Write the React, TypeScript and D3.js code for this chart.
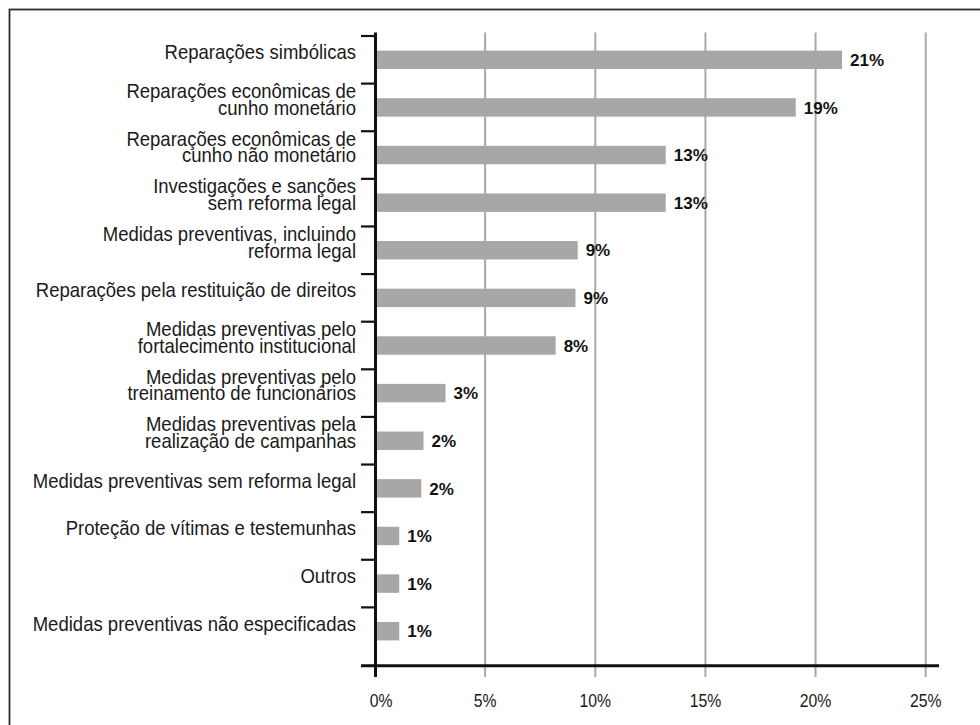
import React from "react";
import * as d3 from "d3";

const categories: string[][] = [
  ["Reparações simbólicas"],
  ["Reparações econômicas de", "cunho monetário"],
  ["Reparações econômicas de", "cunho não monetário"],
  ["Investigações e sanções", "sem reforma legal"],
  ["Medidas preventivas, incluindo", "reforma legal"],
  ["Reparações pela restituição de direitos"],
  ["Medidas preventivas pelo", "fortalecimento institucional"],
  ["Medidas preventivas pelo", "treinamento de funcionários"],
  ["Medidas preventivas pela", "realização de campanhas"],
  ["Medidas preventivas sem reforma legal"],
  ["Proteção de vítimas e testemunhas"],
  ["Outros"],
  ["Medidas preventivas não especificadas"],
];

const values: number[] = [21.2, 19.1, 13.2, 13.2, 9.2, 9.1, 8.2, 3.2, 2.2, 2.1, 1.1, 1.1, 1.1];
const valueLabels: string[] = ["21%", "19%", "13%", "13%", "9%", "9%", "8%", "3%", "2%", "2%", "1%", "1%", "1%"];
const xTicks: number[] = [0, 5, 10, 15, 20, 25];
const xTickLabels: string[] = ["0%", "5%", "10%", "15%", "20%", "25%"];

const FONT = "'Liberation Sans', Arial, sans-serif";

export default function App() {
  const W = 980;
  const H = 725;
  const keys = categories.map((_, i) => String(i));
  const x = d3.scaleLinear().domain([0, 25]).range([375, 925.7]);
  const y = d3
    .scaleBand<string>()
    .domain(keys)
    .range([36, 655])
    .paddingInner(0.613)
    .paddingOuter(0.3065);
  const step = y.step();
  const axisY = 665.8;
  const axisX = 375.5;
  const gridTop = 32.5;
  const gridBottom = 677;
  const labelRight = 356;
  const catScale = 0.927;
  const tickScale = 0.83;

  return (
    <svg
      width={W}
      height={H}
      style={{ position: "absolute", left: 0, top: 0, background: "#fff" }}
    >
      <rect x={0} y={0} width={W} height={H} fill="#fff" />
      <rect x={9.5} y={9.5} width={W + 20} height={H + 20} fill="none" stroke="#2a2a2a" strokeWidth={1.8} />

      {/* gridlines */}
      {xTicks.slice(1).map((t) => (
        <line key={"g" + t} x1={x(t)} x2={x(t)} y1={gridTop} y2={gridBottom} stroke="#a9a9a9" strokeWidth={2} />
      ))}

      {/* bars */}
      {values.map((v, i) => (
        <rect
          key={"b" + i}
          x={x(0)}
          y={y(keys[i])!}
          width={x(v) - x(0)}
          height={y.bandwidth()}
          fill="#a8a7a6"
        />
      ))}

      {/* value labels */}
      {values.map((v, i) => {
        const cy = y(keys[i])! + y.bandwidth() / 2;
        return (
          <text
            key={"v" + i}
            x={x(v) + 8}
            y={cy + 6.2}
            fontFamily={FONT}
            fontWeight="bold"
            fontSize={17}
            fill="#111"
          >
            {valueLabels[i]}
          </text>
        );
      })}

      {/* y ticks at band boundaries */}
      {keys.map((k, i) => {
        const cy = y(k)! + y.bandwidth() / 2;
        const ty = cy - step / 2;
        return <line key={"yt" + i} x1={361} x2={axisX} y1={ty} y2={ty} stroke="#111" strokeWidth={2.2} />;
      })}

      {/* category labels */}
      {categories.map((lines, i) => {
        const cy = y(keys[i])! + y.bandwidth() / 2;
        const baselines = lines.length === 1 ? [cy - 0.5] : [cy - 9.3, cy + 7.3];
        return (
          <g key={"c" + i}>
            {lines.map((ln, j) => (
              <text
                key={j}
                transform={`translate(${labelRight},${baselines[j]}) scale(${catScale},1)`}
                textAnchor="end"
                fontFamily={FONT}
                fontSize={20}
                fill="#1a1a1a"
              >
                {ln}
              </text>
            ))}
          </g>
        );
      })}

      {/* axes */}
      <line x1={axisX} x2={axisX} y1={gridTop} y2={gridBottom} stroke="#111" strokeWidth={3} />
      <line x1={361} x2={939} y1={axisY} y2={axisY} stroke="#111" strokeWidth={3} />

      {/* x tick labels */}
      {xTicks.map((t, i) => (
        <text
          key={"xl" + t}
          transform={`translate(${x(t) + (i === 0 ? 6 : 0)},706.5) scale(${tickScale},1)`}
          textAnchor="middle"
          fontFamily={FONT}
          fontSize={19}
          fill="#1a1a1a"
        >
          {xTickLabels[i]}
        </text>
      ))}
    </svg>
  );
}
